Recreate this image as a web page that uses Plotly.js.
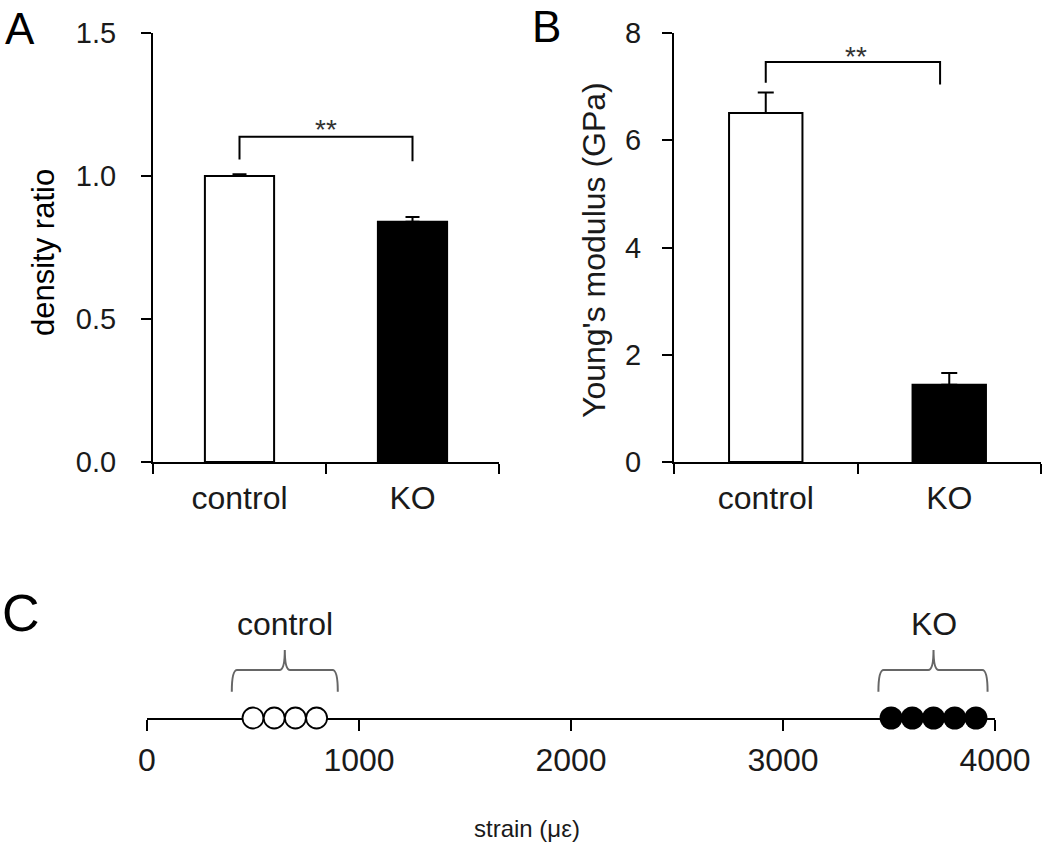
<!DOCTYPE html>
<html>
<head>
<meta charset="utf-8">
<script src="https://cdn.plot.ly/plotly-3.0.1.min.js"></script>
<style>html,body{margin:0;padding:0;background:#fff;}#chart{width:1050px;height:844px;}</style>
</head>
<body>
<div id="chart"></div>
<script>
// ---- data ----
var categories = ['control', 'KO'];
var densityRatio = [1.0, 0.84];
var densityErr = [0.006, 0.017];
var youngsModulus = [6.51, 1.44];
var youngsErr = [0.38, 0.22];
var strainControl = [500, 600, 700, 800];
var strainKO = [3510, 3610, 3710, 3810, 3910];
var strainTicks = [0, 1000, 2000, 3000, 4000];
var densityTicks = [0, 0.5, 1.0, 1.5];
var youngsTicks = [0, 2, 4, 6, 8];

// ---- layout helpers ----
var W = 1050, H = 844;
function px(x) { return x / W; }
function py(y) { return 1 - y / H; }
var FONT = 'Liberation Sans, Arial, sans-serif';
var TXT = '#1a1a1a';

var traces = [
  {
    type: 'bar', x: categories, y: densityRatio, xaxis: 'x', yaxis: 'y', width: 0.4,
    marker: {color: ['#ffffff', '#000000'], line: {color: '#000', width: 2}},
    error_y: {type: 'data', symmetric: false, array: densityErr, arrayminus: [0, 0], color: '#000', thickness: 2, width: 7},
    hoverinfo: 'none'
  },
  {
    type: 'bar', x: categories, y: youngsModulus, xaxis: 'x2', yaxis: 'y2', width: 0.4,
    marker: {color: ['#ffffff', '#000000'], line: {color: '#000', width: 2}},
    error_y: {type: 'data', symmetric: false, array: youngsErr, arrayminus: [0, 0], color: '#000', thickness: 2, width: 8},
    hoverinfo: 'none'
  },
  {
    type: 'scatter', mode: 'markers', x: strainControl, y: strainControl.map(function(){return 0;}),
    xaxis: 'x3', yaxis: 'y3', cliponaxis: false,
    marker: {symbol: 'circle', size: 21, color: '#fff', line: {color: '#000', width: 1.8}},
    hoverinfo: 'none'
  },
  {
    type: 'scatter', mode: 'markers', x: strainKO, y: strainKO.map(function(){return 0;}),
    xaxis: 'x3', yaxis: 'y3', cliponaxis: false,
    marker: {symbol: 'circle', size: 23, color: '#000', line: {color: '#000', width: 0}},
    hoverinfo: 'none'
  }
];

var catAxis = {
  type: 'category', range: [-0.5, 1.5], tickson: 'boundaries', ticks: 'outside', ticklen: 10, tickwidth: 2,
  tickcolor: '#000', showline: true, linewidth: 2, linecolor: '#000', showgrid: false, zeroline: false,
  tickfont: {family: FONT, size: 32, color: TXT}, ticklabelstandoff: 7, fixedrange: true
};
function clone(o, extra) { var r = JSON.parse(JSON.stringify(o)); for (var k in extra) r[k] = extra[k]; return r; }

var yBase = {
  ticks: 'outside', ticklen: 10, tickwidth: 2, tickcolor: '#000', showline: true, linewidth: 2, linecolor: '#000',
  showgrid: false, zeroline: false, fixedrange: true
};

// bracket helper (data coords)
function bracket(xr, yr, x0, x1, yTop, yL, yR) {
  return {type: 'path', xref: xr, yref: yr,
    path: 'M ' + x0 + ',' + yL + ' L ' + x0 + ',' + yTop + ' L ' + x1 + ',' + yTop + ' L ' + x1 + ',' + yR,
    line: {color: '#000', width: 2}};
}
function brace(x0, x1, xc, yBar, yEnd, yTip, r) {
  var p = 'M ' + x0 + ',' + yEnd + ' Q ' + x0 + ',' + yBar + ' ' + (x0 + r) + ',' + yBar +
    ' L ' + (xc - r) + ',' + yBar + ' Q ' + xc + ',' + yBar + ' ' + xc + ',' + yTip +
    ' Q ' + xc + ',' + yBar + ' ' + (xc + r) + ',' + yBar +
    ' L ' + (x1 - r) + ',' + yBar + ' Q ' + x1 + ',' + yBar + ' ' + x1 + ',' + yEnd;
  return {type: 'path', xref: 'x3', yref: 'y3', path: p, line: {color: '#666', width: 2}};
}
function mean(a) { return a.reduce(function(s, v){return s + v;}, 0) / a.length; }

var layout = {
  width: W, height: H, margin: {l: 0, r: 0, t: 0, b: 0}, showlegend: false,
  paper_bgcolor: '#fff', plot_bgcolor: 'rgba(0,0,0,0)',
  font: {family: FONT, color: TXT},
  xaxis: clone(catAxis, {domain: [px(153), px(499)], anchor: 'y'}),
  yaxis: clone(yBase, {domain: [py(462), py(33)], range: [0, 1.5], tickvals: densityTicks, tickformat: '.1f',
    tickfont: {family: FONT, size: 29, color: TXT}, ticklabelstandoff: 19, anchor: 'x'}),
  xaxis2: clone(catAxis, {domain: [px(674), px(1041)], anchor: 'y2'}),
  yaxis2: clone(yBase, {domain: [py(462), py(33)], range: [0, 8], tickvals: youngsTicks,
    tickfont: {family: FONT, size: 29, color: TXT}, ticklabelstandoff: 15, anchor: 'x2'}),
  xaxis3: {domain: [px(147), px(995)], range: [0, 4000], tickvals: strainTicks, anchor: 'y3',
    ticks: 'outside', ticklen: 11, tickwidth: 2, tickcolor: '#000', showline: true, linewidth: 2, linecolor: '#000',
    showgrid: false, zeroline: false, layer: 'below traces', fixedrange: true,
    tickfont: {family: FONT, size: 32, color: TXT}, ticklabelstandoff: 2},
  yaxis3: {domain: [py(718), py(640)], range: [0, 1], visible: false, fixedrange: true, anchor: 'x3'},
  shapes: [
    bracket('x', 'y', 0, 1, 1.137, 1.058, 1.052),
    bracket('x2', 'y2', 0, 0.95, 7.457, 7.07, 7.04),
    brace(400, 900, mean(strainControl), 0.615, 0.337, 0.872, 25),
    brace(3450, 3965, mean(strainKO), 0.615, 0.337, 0.872, 25)
  ],
  annotations: [
    {text: 'A', xref: 'paper', yref: 'paper', x: px(3), y: py(2), xanchor: 'left', yanchor: 'top', showarrow: false,
      font: {family: FONT, size: 44, color: '#000'}},
    {text: 'B', xref: 'paper', yref: 'paper', x: px(530), y: py(0), xanchor: 'left', yanchor: 'top', showarrow: false,
      font: {family: FONT, size: 44, color: '#000'}},
    {text: 'C', xref: 'paper', yref: 'paper', x: px(0), y: py(613), xanchor: 'left', yanchor: 'middle', showarrow: false,
      font: {family: FONT, size: 52, color: '#000'}},
    {text: 'density ratio', xref: 'paper', yref: 'paper', x: px(43), y: py(253), textangle: -90,
      xanchor: 'center', yanchor: 'middle', showarrow: false, font: {family: FONT, size: 31, color: '#000'}},
    {text: "Young's modulus (GPa)", xref: 'paper', yref: 'paper', x: px(594), y: py(250), textangle: -90,
      xanchor: 'center', yanchor: 'middle', showarrow: false, font: {family: FONT, size: 32, color: TXT}},
    {text: '**', xref: 'x', yref: 'paper', x: 0.5, y: py(130), xanchor: 'center', yanchor: 'middle', showarrow: false,
      font: {family: FONT, size: 28, color: '#333'}},
    {text: '**', xref: 'x2', yref: 'paper', x: 0.494, y: py(56), xanchor: 'center', yanchor: 'middle', showarrow: false,
      font: {family: FONT, size: 28, color: '#333'}},
    {text: 'control', xref: 'x3', yref: 'paper', x: mean(strainControl), y: py(624), xanchor: 'center', yanchor: 'middle',
      showarrow: false, font: {family: FONT, size: 32, color: TXT}},
    {text: 'KO', xref: 'x3', yref: 'paper', x: mean(strainKO), y: py(624), xanchor: 'center', yanchor: 'middle',
      showarrow: false, font: {family: FONT, size: 32, color: TXT}},
    {text: 'strain (με)', xref: 'paper', yref: 'paper', x: px(527), y: py(828), xanchor: 'center', yanchor: 'middle',
      showarrow: false, font: {family: FONT, size: 24, color: TXT}}
  ]
};

Plotly.newPlot('chart', traces, layout, {staticPlot: true, displayModeBar: false});
</script>
</body>
</html>
